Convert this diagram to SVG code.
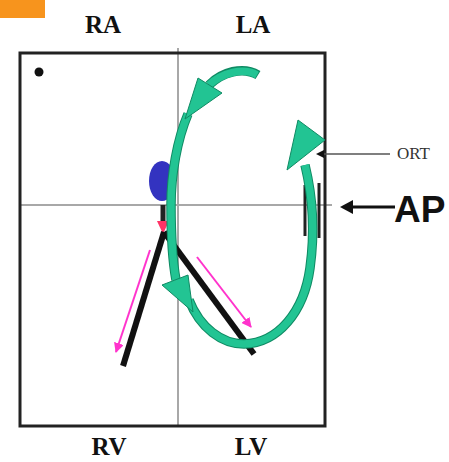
<svg xmlns="http://www.w3.org/2000/svg" width="449" height="462" viewBox="0 0 449 462">
  <style>
    .lbl { font-family: "Liberation Serif", "Times New Roman", serif; font-weight: bold; font-size: 25px; fill: #111; text-anchor: middle; }
    .grid { stroke: #a8a8a8; stroke-width: 2; fill: none; }
    .lead { stroke: #111; stroke-width: 6; stroke-linecap: butt; fill: none; }
    .pink { stroke: #ff33cc; stroke-width: 2; fill: none; }
    .bandOut { stroke: #0f8a63; stroke-width: 9.5; fill: none; stroke-linecap: butt; }
    .bandIn { stroke: #22c493; stroke-width: 7.5; fill: none; stroke-linecap: butt; }
    .head { fill: #22c493; stroke: #0f8a63; stroke-width: 1; stroke-linejoin: round; }
  </style>
  <defs>
    <marker id="pinkHead" viewBox="0 0 10 10" refX="9" refY="5" markerWidth="5" markerHeight="5" orient="auto">
      <path d="M0,0 L10,5 L0,10 z" fill="#ff33cc"/>
    </marker>
  </defs>

  <rect width="449" height="462" fill="#ffffff"/>

  <!-- corner tab -->
  <rect x="0" y="0" width="45" height="18" fill="#f7941d"/>

  <!-- chamber labels -->
  <g id="label-ra"><text class="lbl" x="103" y="33">RA</text></g>
  <g id="label-la"><text class="lbl" x="253" y="33">LA</text></g>
  <g id="label-rv"><text class="lbl" x="109" y="455">RV</text></g>
  <g id="label-lv"><text class="lbl" x="251" y="455">LV</text></g>

  <!-- frame and quadrant lines -->
  <g id="frame">
    <line class="grid" x1="178" y1="48" x2="178" y2="425"/>
    <line class="grid" x1="20" y1="205" x2="332" y2="205"/>
    <rect x="20" y="53" width="305" height="373" fill="none" stroke="#222" stroke-width="3"/>
    <circle cx="39" cy="72" r="4.5" fill="#111"/>
  </g>

  <!-- node: blue ellipse -->
  <g id="node">
    <ellipse cx="162" cy="181" rx="13" ry="20" fill="#3333c0"/>
  </g>

  <!-- bundle and branches -->
  <g id="branches">
    <line x1="163" y1="205" x2="163" y2="224" stroke="#222" stroke-width="5"/>
    <path d="M157,221 L169,221 L163,234 z" fill="#ff3366"/>
    <line class="lead" x1="164" y1="232" x2="123" y2="366"/>
    <line class="lead" x1="164" y1="232" x2="254" y2="354"/>
  </g>

  <!-- accessory pathway bars -->
  <g id="pathway">
    <line x1="305" y1="185" x2="305" y2="236" stroke="#222" stroke-width="3"/>
    <line x1="319" y1="183" x2="319" y2="238" stroke="#222" stroke-width="3"/>
  </g>

  <!-- connectors -->
  <g id="connectors">
    <!-- conduction direction arrows -->
    <line class="pink" x1="150" y1="250" x2="116" y2="352" marker-end="url(#pinkHead)"/>
    <line class="pink" x1="197" y1="257" x2="251" y2="327" marker-end="url(#pinkHead)"/>

    <!-- reentry circuit: top arc -->
    <path class="bandOut" d="M258,75 C243,66 222,72 209,85" stroke-width="11"/>
    <path class="bandIn" d="M257,75 C243,67 222,73 209,85" stroke-width="9"/>
    <!-- descending limb -->
    <path class="bandOut" d="M188,114 C177,140 171,175 171,205 C171,235 172,258 176,280"/>
    <path class="bandIn" d="M188,114 C177,140 171,175 171,205 C171,235 172,258 176,280"/>
    <!-- loop back up the lateral wall -->
    <path class="bandOut" d="M189,300 C200,328 222,344 244,344 C278,343 304,312 310,268 C315,232 313,198 305,165"/>
    <path class="bandIn" d="M189,300 C200,328 222,344 244,344 C278,343 304,312 310,268 C315,232 313,198 305,165"/>

    <!-- circuit arrowheads -->
    <path class="head" d="M198,78 L222,93 L185,119 z"/>
    <path class="head" d="M162,285 L188,275 L193,312 z"/>
    <path class="head" d="M287,170 L325,140 L298,120 z"/>

    <!-- ORT pointer -->
    <line x1="390" y1="154" x2="322" y2="154" stroke="#555" stroke-width="1.5"/>
    <path d="M316,154 L324,150 L324,158 z" fill="#111"/>

    <!-- AP pointer -->
    <line x1="395" y1="207" x2="350" y2="207" stroke="#111" stroke-width="3"/>
    <path d="M340,207 L353,200 L353,214 z" fill="#111"/>
  </g>

  <!-- side labels -->
  <g id="label-ort">
    <text x="397" y="159" font-family="Liberation Serif, 'Times New Roman', serif" font-size="17" fill="#333">ORT</text>
  </g>
  <g id="label-ap">
    <text x="394" y="222" font-family="Liberation Sans, Arial, sans-serif" font-weight="bold" font-size="37" fill="#111">AP</text>
  </g>
</svg>
